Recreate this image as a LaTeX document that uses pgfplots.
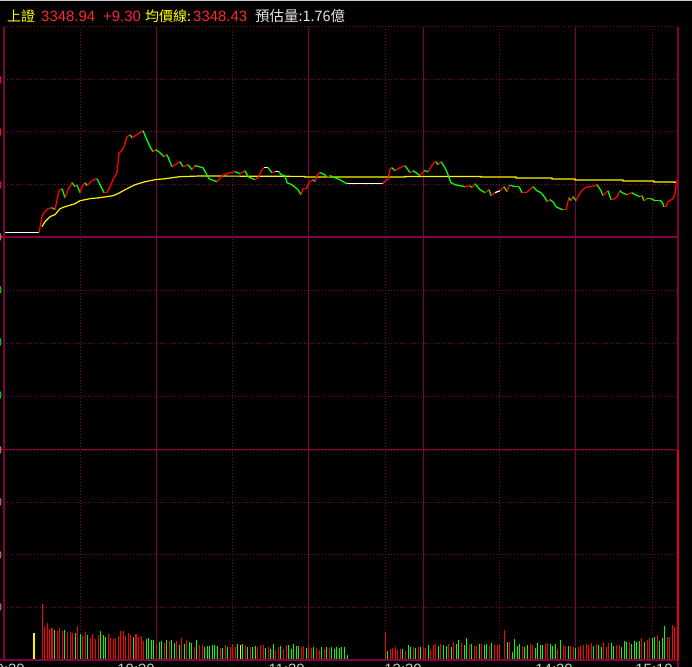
\documentclass[border=0pt]{standalone}
\usepackage{fontspec}
\setmainfont{Liberation Sans}
\newfontfamily\cjk{Noto Sans CJK TC}
\usepackage{pgfplots}
\pgfplotsset{compat=1.18}
\definecolor{gridc}{RGB}{128,0,64}
\definecolor{tred}{RGB}{255,40,40}
\definecolor{tyel}{RGB}{255,255,0}
\definecolor{twhite}{RGB}{230,230,230}
\definecolor{lgray}{RGB}{200,200,200}
\definecolor{vred}{RGB}{255,0,0}
\definecolor{vgreen}{RGB}{0,255,0}
\definecolor{brred}{RGB}{230,0,20}
\definecolor{torange}{RGB}{220,140,90}

\pgfplotstableread{
x y c
4 3338.88 1
39 3338.88 2
40 3339.77 2
42 3341.87 2
44 3342.63 2
48 3343.39 2
52 3343.58 0
55 3343.20 2
57 3345.10 2
59 3346.82 2
62 3347.20 0
65 3345.49 2
68 3347.01 2
72 3348.34 0
75 3347.58 2
77 3347.96 0
80 3346.44 2
82 3347.58 2
85 3348.34 0
87 3347.77 2
92 3348.72 2
97 3349.10 0
104 3346.44 2
107 3346.44 2
110 3347.58 2
114 3349.30 2
117 3350.25 2
119 3354.06 2
121 3354.25 2
124 3355.20 2
127 3357.10 2
130 3357.49 0
132 3356.91 2
137 3357.49 2
140 3357.87 2
143 3358.25 0
146 3356.91 0
150 3355.20 0
153 3354.25 2
156 3354.63 0
160 3354.06 0
164 3353.30 2
167 3353.68 0
172 3351.39 2
180 3352.34 0
183 3351.39 2
188 3351.77 0
192 3350.82 2
195 3351.58 0
203 3351.20 0
209 3349.10 0
217 3348.53 2
222 3349.68 2
226 3350.06 2
235 3350.44 0
240 3350.06 2
245 3350.63 0
248 3349.49 0
255 3348.91 2
258 3349.30 2
262 3350.82 2
264 3351.20 1
268 3351.20 0
272 3350.25 2
275 3350.44 1
279 3350.44 0
281 3349.87 0
285 3349.68 0
287 3348.34 0
292 3347.96 0
298 3347.01 0
301 3346.06 2
303 3347.20 2
306 3347.20 2
310 3348.53 2
313 3348.91 0
315 3348.53 2
318 3350.06 2
320 3350.25 0
325 3349.87 0
327 3349.30 2
330 3349.68 0
335 3349.30 0
340 3348.91 0
345 3348.34 0
347 3348.15 1
383 3348.15 2
385 3348.72 2
388 3348.91 2
390 3351.01 2
392 3351.20 0
395 3350.63 2
400 3351.20 2
405 3351.58 0
408 3350.82 0
410 3350.25 2
413 3350.63 0
416 3350.25 0
420 3349.68 2
424 3350.63 0
428 3350.44 2
431 3351.39 2
434 3352.15 2
436 3352.34 0
438 3351.77 2
441 3352.34 0
445 3351.20 0
448 3349.87 0
451 3348.34 0
455 3347.96 0
460 3347.77 0
465 3347.58 2
470 3347.77 0
472 3347.39 2
475 3348.15 0
480 3347.01 0
485 3346.44 2
489 3347.01 0
491 3345.87 2
495 3346.44 1
500 3346.82 2
504 3347.58 0
507 3346.63 2
509 3347.77 0
512 3347.77 0
515 3347.58 0
519 3347.58 0
522 3346.44 2
526 3346.44 2
530 3347.01 2
533 3347.58 0
537 3346.82 0
541 3346.44 0
545 3345.49 0
547 3344.72 2
550 3345.10 0
553 3344.72 0
556 3343.77 0
560 3343.39 0
563 3343.20 2
566 3343.20 2
569 3345.49 0
571 3344.91 2
573 3345.68 0
576 3344.91 2
578 3345.68 2
581 3346.63 2
585 3347.39 2
590 3347.58 2
595 3347.77 2
597 3347.96 0
601 3346.82 0
603 3345.87 2
606 3346.44 2
608 3346.82 0
611 3345.10 2
615 3345.30 2
617 3345.68 2
620 3346.82 0
622 3346.44 0
627 3346.06 2
632 3346.44 0
635 3346.06 0
640 3345.68 2
642 3345.87 0
644 3344.91 2
647 3345.30 0
651 3345.30 0
655 3344.91 0
660 3344.91 0
662 3344.72 0
664 3343.77 2
666 3343.77 2
668 3344.72 2
673 3345.30 2
675 3346.25 2
676 3347.77 2
677 3348.94 2
}\pricetab

\pgfplotstableread{
x y
42 3339.96
45 3340.91
50 3341.87
55 3342.25
60 3343.39
65 3343.77
75 3344.34
80 3344.91
90 3345.30
100 3345.49
113 3345.87
118 3346.25
125 3347.01
135 3347.96
145 3348.53
155 3348.91
165 3349.10
180 3349.49
200 3349.62
305 3349.54
305 3349.43
405 3349.43
405 3349.54
481 3349.54
481 3349.43
516 3349.43
516 3349.24
552 3349.24
552 3349.05
575 3349.05
575 3348.86
623 3348.86
623 3348.67
654 3348.67
654 3348.48
674 3348.48
674 3348.43
677 3348.43
}\avgtab

\pgfplotstableread{
x v
42.3 56
44.3 33
47.3 37
49.3 31
52 32
57.3 29
59.3 32
62.3 29
67.3 28
70.3 28
72.3 27
77.3 34
82.3 24
85.3 28
90.3 22
92.3 26
95.3 21
98.3 25
108.3 26
110.3 22
113.3 21
115.3 22
118.3 24
120.3 29
123.3 29
125.3 24
128.3 27
130.3 25
136 26
138.3 23
141.3 24
143.3 19
156.3 17
164.3 17
169.3 19
176.3 19
181.3 22
186.3 20
194.3 13
199.3 15
202.3 15
220.3 12
225.3 15
230.3 13
232.3 16
235.3 13
245.3 15
250.3 13
257.3 13
260.3 15
263.3 15
268.3 13
275.3 10
278.3 13
283.3 11
286.3 15
301.3 13
303.3 14
308.3 14
311.3 12
316.3 12
319.3 10
324.3 11
329.3 12
385.3 27
390.3 11
392.3 12
395.3 13
397.3 10
400.3 11
405.3 9
413.3 13
418.3 13
423.3 13
425.3 12
430.3 10
433.3 15
435.3 16
440.3 16
448.3 16
453.3 18
461.3 17
469.3 16
474.3 14
476.3 14
481.3 16
489.3 14
494.3 15
497.3 15
499.3 16
504.3 30
509.3 18
522.3 14
530.3 16
532.3 15
545.3 16
547.3 17
557.3 11
563.3 15
565.3 14
570.3 14
573.3 13
578.3 13
580.3 14
583.3 15
586.3 16
588.3 15
591.3 17
596.3 16
603.3 18
606.3 13
608.3 17
616.3 15
619.3 15
629.3 18
641.3 22
647.3 20
649.3 22
657.3 25
667.3 23
669.3 23
672.3 35
674.3 33
}\volred

\pgfplotstableread{
x v
54.3 30
64.3 30
75.3 27
80.3 26
87.3 25
100.3 29
103.3 25
105.3 23
133.3 23
146.3 21
148.3 22
151.3 20
153.3 20
159.3 18
161.3 19
166.3 20
171.3 20
174.3 17
179.3 15
184.3 16
189.3 18
191.3 17
196.3 20
204.3 13
207.3 14
209.3 14
212.3 15
214.3 15
217.3 14
222.3 12
227.3 13
237.3 16
242.3 16
247.3 13
252.3 13
255.3 14
265.3 12
270.3 11
273.3 16
280.3 14
288.3 15
291.3 11
293.3 16
296.3 14
298.3 14
306.3 12
313.3 13
321.3 13
326.3 13
331.3 13
334.3 11
336.3 13
339.3 12
341.3 13
344.3 13
347.3 5
387.3 9
402.3 11
408.3 15
410.3 13
415.3 12
420.3 13
428.3 15
438.3 14
443.3 15
446.3 14
451.3 13
456.3 16
458.3 20
464.3 15
466.3 22
471.3 16
479.3 16
484.3 15
486.3 16
491.3 17
507.3 18
512.3 8
514.3 21
517.3 14
519.3 16
524.3 13
527.3 15
535.3 12
537.3 17
540.3 15
542.3 15
550.3 16
552.3 14
555.3 16
560.3 20
568.3 14
575.3 12
593.3 14
598.3 15
601.3 13
611.3 17
613.3 14
621.3 13
624.3 19
626.3 18
631.3 16
634.3 19
636.3 18
639.3 19
644.3 18
652.3 22
654.3 23
659.3 19
662.3 22
664.3 34
}\volgreen

\pgfplotstableread{
x v
34 27
240.3 15
}\volyellow

\pgfplotsset{
  panel/.style={
    anchor=south west, scale only axis, width=674bp,
    xmin=4, xmax=678,
    axis line style={draw=none}, tick style={draw=none},
    xtick={156,308,423,575}, minor xtick={80,232,385,499,652},
    xticklabels={}, ytick=\empty, yticklabels={},
    xmajorgrids, xminorgrids,
    major grid style={draw=gridc, line width=1bp, solid},
    minor grid style={draw=gridc, line width=1bp, dash pattern=on 1bp off 2bp},
    extra y tick labels={},
    extra y tick style={grid=major, major grid style={draw=gridc, line width=1bp, dash pattern=on 1bp off 2bp}, tick style={draw=none}},
  }
}

\begin{document}
\begin{tikzpicture}
\useasboundingbox (0bp,0bp) rectangle (692bp,667bp);
\fill[black] (0bp,0bp) rectangle (692bp,667bp);
\begin{scope}
\clip (0bp,0bp) rectangle (692bp,667bp);
\fill[lgray] (0bp,666bp) rectangle (692bp,667bp);

% price panel
\begin{axis}[panel, at={(4bp,430bp)}, height=210bp,
  ymin=3338, ymax=3378, extra y ticks={3348,3358,3368}]
  \addplot[yellow, line width=1.2bp] table[x=x,y=y] {\avgtab};
  \addplot[mesh, point meta=explicit, colormap={pc}{rgb255=(0,255,0) rgb255=(255,255,255) rgb255=(255,0,0)},
    colormap access=direct, shader=flat corner, line width=1.3bp] table[x=x,y=y,meta=c] {\pricetab};
\end{axis}

% middle (empty) panel
\begin{axis}[panel, at={(4bp,217bp)}, height=213bp,
  ymin=0, ymax=4, extra y ticks={1,2,3}]
  \addplot[draw=none] coordinates {(4,0)};
\end{axis}

% volume panel
\begin{axis}[panel, at={(4bp,7bp)}, height=210bp,
  ymin=0, ymax=210, extra y ticks={52.5,105,157.5}]
  \addplot[ycomb, draw=vred, line width=1.2bp] table[x=x,y=v] {\volred};
  \addplot[ycomb, draw=vgreen, line width=1.2bp] table[x=x,y=v] {\volgreen};
  \addplot[ycomb, draw=yellow, line width=1.2bp] table[x=x,y=v] {\volyellow};
\end{axis}

\begin{scope}[x=1bp,y=1bp]
% frame
\draw[gridc, line width=1bp, dash pattern=on 1bp off 2bp] (4,640) -- (678,640);
\draw[gridc, line width=1.2bp] (4,640) -- (4,7);
\draw[gridc, line width=2bp] (0,430) -- (678,430);
\draw[gridc, line width=1bp] (0,217.5) -- (678,217.5);
\draw[gridc, line width=1bp, dash pattern=on 1bp off 2bp] (4,216.5) -- (678,216.5);
\draw[gridc, line width=1.5bp] (0,7) -- (678,7);
\draw[gridc, line width=1.5bp] (678,640) -- (678,0);
\draw[brred, line width=1.5bp] (678,217) -- (678,7);

% clipped left-side scale labels (only their last strokes are visible)
\foreach \yy/\cc in {587/tred,535/tred,482/tred,430/torange,377/vgreen,325/vgreen,272/vgreen,217/torange,165/torange,112/torange,60/torange}
  \node[anchor=east, inner sep=0, font=\fontsize{12}{14}\selectfont, text=\cc] at (2.2,\yy) {0};

% title
\node[anchor=base west, inner sep=0, font=\fontsize{14}{16}\selectfont\cjk, text=tyel] at (7,645) {上證};
\node[anchor=base west, inner sep=0, font=\fontsize{15}{16}\selectfont, text=tred] at (41,645) {3348.94};
\node[anchor=base west, inner sep=0, font=\fontsize{15}{16}\selectfont, text=tred] at (103,645) {+9.30};
\node[anchor=base west, inner sep=0, font=\fontsize{14}{16}\selectfont\cjk, text=tyel] at (145,645) {均價線:};
\node[anchor=base west, inner sep=0, font=\fontsize{15}{16}\selectfont, text=tred] at (193,645) {3348.43};
\node[anchor=base west, inner sep=0, font=\fontsize{14.5}{16}\selectfont\cjk, text=twhite] at (255,645) {預估量:1.76億};

% time labels (clipped at the bottom edge, as in the reference)
\foreach \xx/\tt in {25/9:30,155/10:30,305/11:30,422/13:30,573/14:30,673/15:10}
  \node[anchor=north east, inner sep=0, font=\fontsize{15}{16}\selectfont, text=lgray] at (\xx,3.5) {\tt};
\end{scope}
\end{scope}
\end{tikzpicture}
\end{document}
